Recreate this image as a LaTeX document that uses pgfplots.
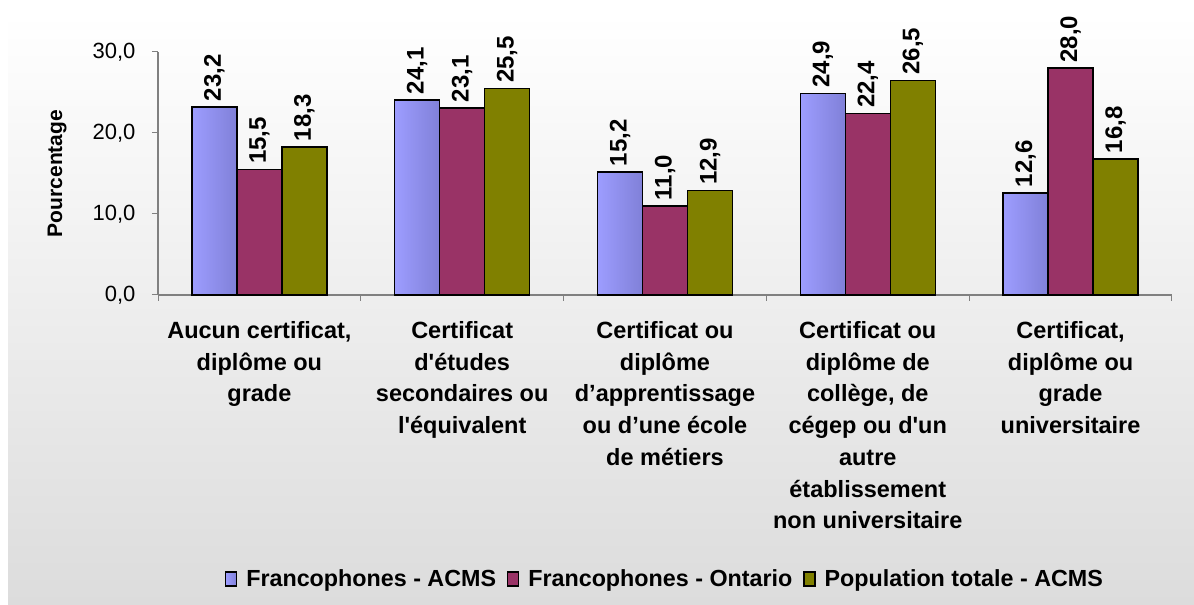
\documentclass[border=0pt]{standalone}
\usepackage{pgfplots}
\pgfplotsset{compat=1.18}
\usepackage{fontspec}
\setmainfont{Liberation Sans}
\definecolor{bleuL}{RGB}{157,157,255}
\definecolor{bleuR}{RGB}{128,128,216}
\definecolor{prune}{RGB}{153,51,102}
\definecolor{olive}{RGB}{128,128,0}
\definecolor{axegris}{RGB}{128,128,128}
\definecolor{fondbas}{RGB}{220,220,220}
\begin{document}
\begin{tikzpicture}
\path[fill=white] (0pt,0pt) rectangle (1194pt,605pt);
\shade[top color=white, bottom color=fondbas] (8pt,0pt) rectangle (1194pt,592pt);
\begin{axis}[
  at={(158pt,310pt)}, anchor=south west,
  scale only axis, width=1014pt, height=243pt,
  xmin=-0.5, xmax=4.5, ymin=0, ymax=30,
  clip=false,
  axis lines=left,
  axis line style={-, draw=axegris, line width=1.2pt},
  tick style={draw=axegris, line width=1pt},
  tick align=outside,
  major tick length=6pt,
  ytick={0,10,20,30},
  xtick={-0.5,0.5,1.5,2.5,3.5,4.5},
  xticklabels={{Aucun certificat,\\diplôme ou\\grade},
               {Certificat\\d\textquotesingle études\\secondaires ou\\l\textquotesingle équivalent},
               {Certificat ou\\diplôme\\d’apprentissage\\ou d’une école\\de métiers},
               {Certificat ou\\diplôme de\\collège, de\\cégep ou d\textquotesingle un\\autre\\établissement\\non universitaire},
               {Certificat,\\diplôme ou\\grade\\universitaire},{}},
  xticklabel style={xshift=101.4pt, align=center, anchor=north, yshift=-17pt,
    font=\fontsize{23.5}{31.7}\selectfont\bfseries},
  /pgf/number format/.cd, fixed, fixed zerofill, precision=1, use comma, assume math mode=true,
  /pgfplots/.cd,
  yticklabel style={font=\fontsize{22}{26}\selectfont, xshift=-13pt},
  ylabel={Pourcentage},
  every axis y label/.style={at={(axis description cs:-0.0996,0.5)}, rotate=90, anchor=center,
    font=\fontsize{21}{25}\selectfont\bfseries},
  ybar=0pt, bar width=45pt,
  nodes near coords={\fontsize{24}{28}\selectfont\bfseries\pgfmathprintnumber{\pgfplotspointmeta}},
  point meta=explicit,
  nodes near coords style={rotate=90, anchor=west, inner xsep=8pt, inner ysep=2pt, xshift=-3pt},
  legend columns=3,
  legend style={at={(0.5,-1.169)}, anchor=center, draw=none, fill=none,
    font=\fontsize{23.3}{27}\selectfont\bfseries,
    /tikz/every odd column/.append style={column sep=7pt},
    /tikz/every even column/.append style={column sep=9pt}},
  legend image code/.code={\draw[#1, line width=1.2pt] (0pt,-7pt) rectangle (11pt,7pt);},
]
\addplot[bar shift=0pt, draw=black, line width=1.5pt, left color=bleuL, right color=bleuR] coordinates {(-0.2219,23.2) [23.2]};
\addplot[bar shift=0pt, draw=black, line width=1.5pt, left color=bleuL, right color=bleuR, forget plot] coordinates {(0.7781,24.1) [24.1]};
\addplot[bar shift=0pt, draw=black, line width=1.5pt, left color=bleuL, right color=bleuR, forget plot] coordinates {(1.7781,15.2) [15.2]};
\addplot[bar shift=0pt, draw=black, line width=1.5pt, left color=bleuL, right color=bleuR, forget plot] coordinates {(2.7781,24.9) [24.9]};
\addplot[bar shift=0pt, draw=black, line width=1.5pt, left color=bleuL, right color=bleuR, forget plot] coordinates {(3.7781,12.6) [12.6]};
\addplot[bar shift=0pt, draw=black, line width=1.5pt, fill=prune] coordinates {(0,15.5) [15.5] (1,23.1) [23.1] (2,11.0) [11.0] (3,22.4) [22.4] (4,28.0) [28.0]};
\addplot[bar shift=0pt, draw=black, line width=1.5pt, fill=olive] coordinates {(0.2219,18.3) [18.3] (1.2219,25.5) [25.5] (2.2219,12.9) [12.9] (3.2219,26.5) [26.5] (4.2219,16.8) [16.8]};
\legend{Francophones - ACMS, Francophones - Ontario, Population totale - ACMS}
\end{axis}
\pgfresetboundingbox
\path (0pt,0pt) rectangle (1194pt,605pt);
\end{tikzpicture}
\end{document}
